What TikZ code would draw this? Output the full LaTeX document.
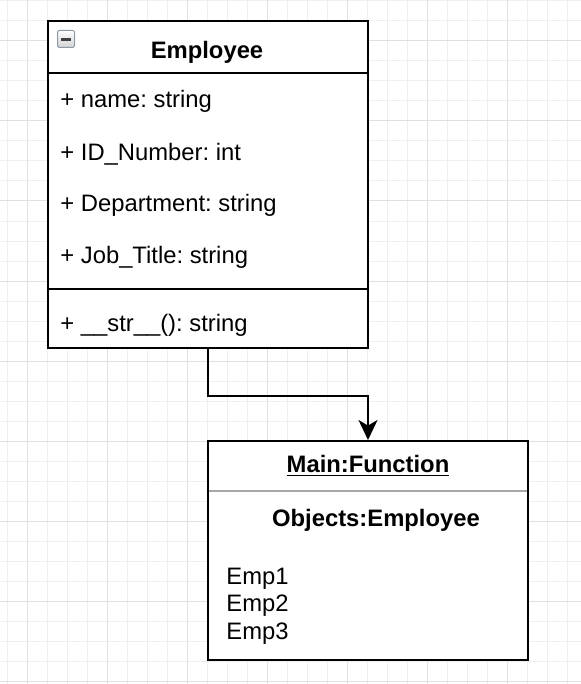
\documentclass[tikz,border=0pt]{standalone}
\usepackage{fontspec}
\setmainfont{Liberation Sans}
\frenchspacing
\usetikzlibrary{arrows.meta}
\definecolor{gridminor}{HTML}{EFEFEF}
\definecolor{gridmajor}{HTML}{E0E0E0}
\definecolor{sepgray}{HTML}{A8A8A8}
\definecolor{iconborder}{HTML}{8C9AA8}
\tikzset{
  ufont/.style={font=\fontsize{11.9pt}{14pt}\selectfont, inner sep=0pt, text=black},
  bfont/.style={font=\fontsize{11.9pt}{14pt}\selectfont\bfseries, inner sep=0pt, text=black},
  umlbox/.style={draw=black, line width=1pt, fill=white, rectangle, inner sep=0pt, minimum width=160pt},
  conn/.style={draw=black, line width=1pt, -{Stealth[length=10pt, width=9.5pt, inset=2.8pt]}},
}
\begin{document}
\begin{tikzpicture}[x=0.5pt, y=-0.5pt]
\useasboundingbox (0,0) rectangle (581,684);
\fill[white] (0,0) rectangle (581,684);
% grid
\foreach \gx in {7,27,...,581} {\draw[gridminor, line width=0.5pt] (\gx,0) -- (\gx,684);}
\foreach \gy in {1,21,...,684} {\draw[gridminor, line width=0.5pt] (0,\gy) -- (581,\gy);}
\foreach \gx in {27,107,...,581} {\draw[gridmajor, line width=0.5pt] (\gx,0) -- (\gx,684);}
\foreach \gy in {41,121,...,684} {\draw[gridmajor, line width=0.5pt] (0,\gy) -- (581,\gy);}

% Employee class
\node[umlbox, minimum height=163.5pt] (emp) at (208,184.5) {};
\draw[line width=1pt] (48,73) -- (368,73);
\draw[line width=1pt] (48,289) -- (368,289);
\node[bfont, anchor=base] (empt) at (207,58.3) {Employee};
\node[ufont, anchor=base west] (a1) at (60,108) {+ name: string};
\node[ufont, anchor=base west] (a2) at (60,160.5) {+ ID\_Number: int};
\node[ufont, anchor=base west] (a3) at (60,212) {+ Department: string};
\node[ufont, anchor=base west] (a4) at (60,263.5) {+ Job\_Title: string};
\node[ufont, anchor=base west] (m1) at (60,331.5) {+ \_\_str\_\_(): string};
% collapse icon
\shade[top color=white, bottom color=gray!35, draw=iconborder, line width=0.5pt, rounded corners=1pt] (57.5,30.5) rectangle (74.5,47.5);
\draw[black!75, line width=1.5pt] (61,39.5) -- (71,39.5);

% Main function object
\node[umlbox, minimum height=109.5pt] (main) at (368,550.5) {};
\draw[sepgray, line width=1pt] (209,491) -- (527,491);
\node[bfont, anchor=base] (mt) at (368,472.3) {\underline{Main:Function}};
\node[bfont, anchor=base] (ot) at (376,526.7) {Objects:Employee};
\node[ufont, anchor=base west] (e1) at (226,584) {Emp1};
\node[ufont, anchor=base west] (e2) at (226,611.7) {Emp2};
\node[ufont, anchor=base west] (e3) at (226,639) {Emp3};

% connector
\draw[conn] (emp.south) -- ++(0,47) -| (main.north);
\end{tikzpicture}
\end{document}
